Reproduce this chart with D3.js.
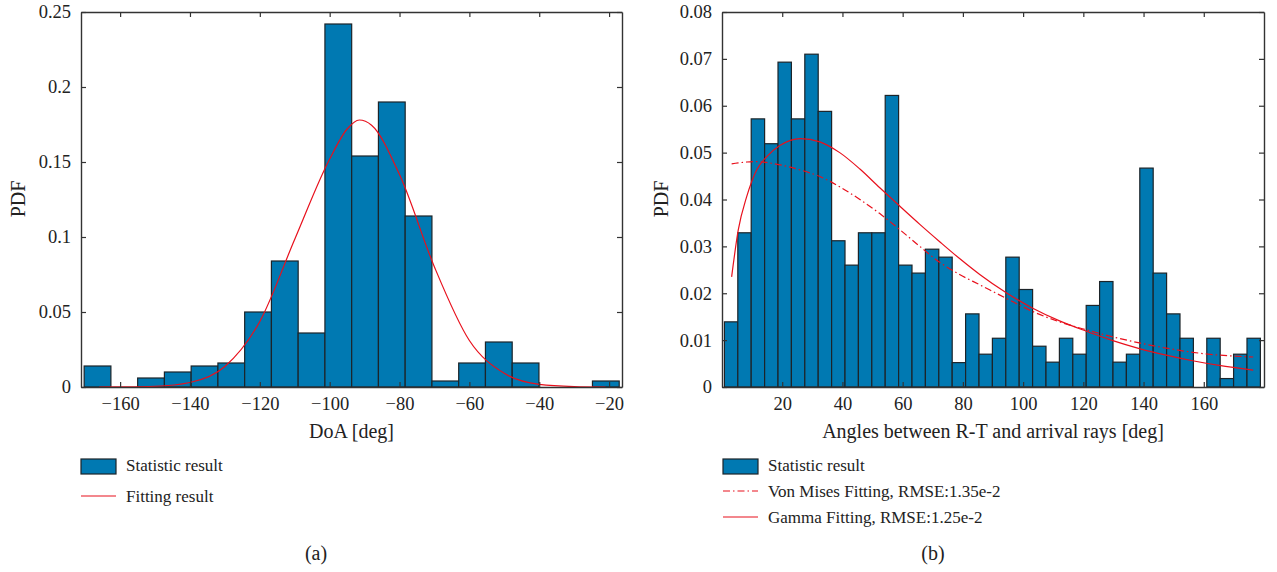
<!DOCTYPE html>
<html>
<head>
<meta charset="utf-8">
<script src="https://cdn.jsdelivr.net/npm/d3@7"></script>
<style>
  body { margin: 0; background: #fff; }
  svg text { font-family: "Liberation Serif", "DejaVu Serif", serif; fill: #222; }
</style>
</head>
<body>
<svg id="fig" width="1277" height="572"></svg>
<script>
// ---- (a) DoA histogram ----
const doaEdges = [-170.3, -162.64, -154.98, -147.32, -139.66, -132.0, -124.34, -116.68, -109.02, -101.36,
  -93.7, -86.04, -78.38, -70.72, -63.06, -55.4, -47.74, -40.08, -32.42, -24.76, -17.1]
const doaPdf = [0.014, 0, 0.006, 0.010, 0.014, 0.016, 0.050, 0.084, 0.036, 0.242,
  0.154, 0.190, 0.114, 0.004, 0.016, 0.030, 0.016, 0, 0, 0.004]
const doaFitX = [-166, -160, -150, -140, -130, -120, -110, -100, -95, -91.5, -88, -80, -70, -60, -50, -40, -30, -21]
const doaFitY = [0, 0.0001, 0.0005, 0.003, 0.0137, 0.0437, 0.0985, 0.152, 0.172, 0.178, 0.1745, 0.1416, 0.080, 0.031, 0.0091, 0.0018, 0.0003, 0]
const doaTicks = [-160, -140, -120, -100, -80, -60, -40, -20]
const pdfTicksA = [0, 0.05, 0.1, 0.15, 0.2, 0.25]

// ---- (b) angle histogram ----
const angEdges = [0.8, 5.25, 9.7, 14.15, 18.6, 23.05, 27.5, 31.95, 36.4, 40.85, 45.3, 49.75, 54.2, 58.65,
  63.1, 67.55, 72.0, 76.45, 80.9, 85.35, 89.8, 94.25, 98.7, 103.15, 107.6, 112.05, 116.5, 120.95, 125.4,
  129.85, 134.3, 138.75, 143.2, 147.65, 152.1, 156.55, 161.0, 165.45, 169.9, 174.35, 178.8]
const angPdf = [0.0139, 0.0329, 0.0572, 0.0519, 0.0693, 0.0572, 0.0710, 0.0588, 0.0312, 0.0260,
  0.0329, 0.0329, 0.0622, 0.0260, 0.0243, 0.0294, 0.0277, 0.0052, 0.0156, 0.0070,
  0.0104, 0.0277, 0.0208, 0.0087, 0.0053, 0.0104, 0.0070, 0.0174, 0.0225, 0.0053,
  0.0070, 0.0467, 0.0243, 0.0156, 0.0104, 0, 0.0104, 0.0018, 0.0070, 0.0104]
const angFitX = [3.2, 5.4, 8.2, 11.5, 14.8, 19.2, 26, 32.5, 39.1, 45.8, 52.4, 59, 65.7, 72.3, 78.9, 85.6,
  94.4, 103.2, 112.1, 121, 129.8, 138.6, 147.5, 156.3, 165.1, 176.4]
const vonMisesY = [0.0476, 0.0478, 0.0480, 0.0481, 0.0479, 0.0474, 0.0463, 0.0449, 0.0427, 0.0400, 0.0370,
  0.0336, 0.0300, 0.0266, 0.0240, 0.0218, 0.0189, 0.0161, 0.0139, 0.0122, 0.0107, 0.0094, 0.0083, 0.0074, 0.0068, 0.0064]
const gammaY = [0.0235, 0.0335, 0.0406, 0.0463, 0.0491, 0.0515, 0.0530, 0.0523, 0.0500, 0.0465, 0.0425,
  0.0386, 0.0347, 0.0310, 0.0274, 0.0240, 0.0201, 0.0168, 0.0141, 0.0119, 0.0099, 0.0082, 0.0068, 0.0056, 0.0046, 0.0036]
const angTicks = [20, 40, 60, 80, 100, 120, 140, 160]
const pdfTicksB = [0, 0.01, 0.02, 0.03, 0.04, 0.05, 0.06, 0.07, 0.08]

const barFill = '#0079b2'
const barEdge = '#1c2429'
const red = '#e8101c'
const axisCol = '#333'

const svg = d3.select('#fig')

function drawPanel(cfg) {
  const x = d3.scaleLinear().domain(cfg.xDomain).range([cfg.left, cfg.right])
  const y = d3.scaleLinear().domain(cfg.yDomain).range([cfg.bottom, cfg.top])
  const g = svg.append('g')

  // bars
  g.selectAll('rect.bar').data(cfg.values).enter().append('rect')
    .attr('class', 'bar')
    .attr('x', (d, i) => x(cfg.edges[i]))
    .attr('width', (d, i) => x(cfg.edges[i + 1]) - x(cfg.edges[i]))
    .attr('y', d => y(d))
    .attr('height', d => y(0) - y(d))
    .attr('fill', barFill).attr('stroke', barEdge).attr('stroke-width', 1.2)

  // fitted curves
  cfg.curves.forEach(c => {
    const line = d3.line().x((d, i) => x(cfg.fitX[i])).y(d => y(d)).curve(d3.curveMonotoneX)
    g.append('path').datum(c.ys)
      .attr('d', line)
      .attr('fill', 'none').attr('stroke', red).attr('stroke-width', 1.2)
      .attr('stroke-dasharray', c.dash || null)
  })

  // axes, ticks inward on all four sides
  const fontTick = '18.5px'
  const bottom = g.append('g').attr('transform', `translate(0,${cfg.bottom})`)
    .call(d3.axisBottom(x).tickValues(cfg.xTicks).tickSizeInner(-5).tickSizeOuter(0).tickPadding(10))
  const top = g.append('g').attr('transform', `translate(0,${cfg.top})`)
    .call(d3.axisTop(x).tickValues(cfg.xTicks).tickSizeInner(-5).tickSizeOuter(0).tickFormat(''))
  const leftAx = g.append('g').attr('transform', `translate(${cfg.left},0)`)
    .call(d3.axisLeft(y).tickValues(cfg.yTicks).tickSizeInner(-5).tickSizeOuter(0).tickPadding(10).tickFormat(d => d))
  const rightAx = g.append('g').attr('transform', `translate(${cfg.right},0)`)
    .call(d3.axisRight(y).tickValues(cfg.yTicks).tickSizeInner(-5).tickSizeOuter(0).tickFormat(''))

  ;[bottom, top, leftAx, rightAx].forEach(a => {
    a.select('.domain').attr('stroke', axisCol).attr('stroke-width', 1.4)
    a.selectAll('.tick line').attr('stroke', axisCol).attr('stroke-width', 1.2)
    a.selectAll('text').attr('font-size', fontTick).attr('font-family', '"Liberation Serif", serif').attr('fill', '#222')
  })

  // axis labels
  g.append('text').text(cfg.xLabel)
    .attr('x', (cfg.left + cfg.right) / 2).attr('y', 438)
    .attr('text-anchor', 'middle').attr('font-size', '20px')
  g.append('text').text('PDF')
    .attr('transform', `translate(${cfg.yLabelX},199) rotate(-90)`)
    .attr('text-anchor', 'middle').attr('font-size', '20px')

  // legend
  const lg = g.append('g').attr('transform', `translate(${cfg.legendX},0)`)
  lg.append('rect').attr('x', 0).attr('y', 459).attr('width', 35).attr('height', 15)
    .attr('fill', barFill).attr('stroke', barEdge).attr('stroke-width', 1.2)
  lg.append('text').text('Statistic result').attr('x', 45).attr('y', 471).attr('font-size', '17px')
  cfg.curves.forEach((c, i) => {
    const ly = cfg.legendY[i]
    lg.append('line').attr('x1', 0).attr('x2', 35).attr('y1', ly).attr('y2', ly)
      .attr('stroke', red).attr('stroke-width', 1.2).attr('stroke-dasharray', c.dash || null)
    lg.append('text').text(c.name).attr('x', 45).attr('y', ly + 5.5).attr('font-size', '17px')
  })

  // panel caption
  g.append('text').text(cfg.caption)
    .attr('x', cfg.captionX).attr('y', 560)
    .attr('text-anchor', 'middle').attr('font-size', '20px')
}

drawPanel({
  left: 81, right: 622, top: 12, bottom: 387,
  xDomain: [-171.2, -16.3], yDomain: [0, 0.25],
  edges: doaEdges, values: doaPdf, fitX: doaFitX,
  curves: [{ name: 'Fitting result', ys: doaFitY }],
  xTicks: doaTicks, yTicks: pdfTicksA,
  xLabel: 'DoA [deg]', yLabelX: 25,
  legendX: 81, legendY: [496],
  caption: '(a)', captionX: 316
})

drawPanel({
  left: 722, right: 1264, top: 12, bottom: 387,
  xDomain: [0, 180], yDomain: [0, 0.08],
  edges: angEdges, values: angPdf, fitX: angFitX,
  curves: [
    { name: 'Von Mises Fitting, RMSE:1.35e-2', ys: vonMisesY, dash: '7,3,1.5,3' },
    { name: 'Gamma Fitting, RMSE:1.25e-2', ys: gammaY }
  ],
  xTicks: angTicks, yTicks: pdfTicksB,
  xLabel: 'Angles between R-T and arrival rays [deg]', yLabelX: 668,
  legendX: 723, legendY: [491, 517],
  caption: '(b)', captionX: 933
})
</script>
</body>
</html>
